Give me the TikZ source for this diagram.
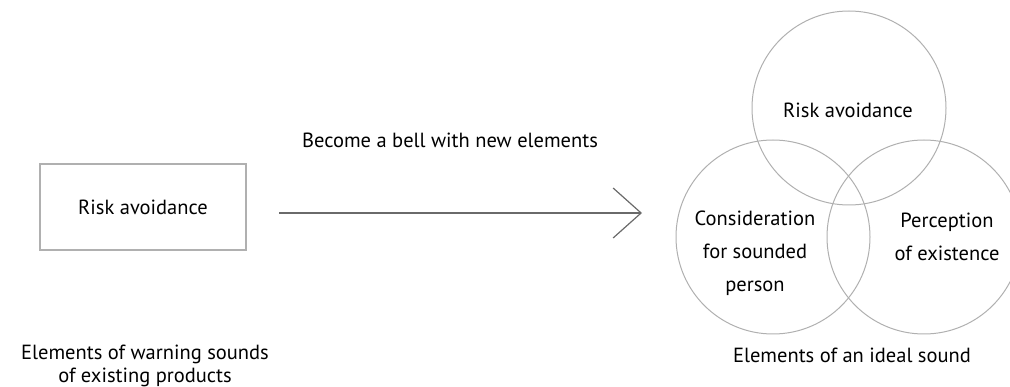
\documentclass[tikz,border=0pt]{standalone}
\usepackage{fontspec}
\setmainfont{PT Sans}
\usetikzlibrary{arrows.meta}

\begin{document}
\begin{tikzpicture}[x=1pt,y=-1pt]
  \definecolor{linegray}{HTML}{B0B0B0}
  \definecolor{arrowgray}{HTML}{6A6A6A}
  \tikzstyle{every node}=[font=\fontsize{20.5}{33}\selectfont, text=black]
  \tikzstyle{element box}=[draw=linegray, line width=1.1pt, minimum width=206pt, minimum height=86pt]
  \tikzstyle{sound circle}=[draw=linegray, line width=1pt, circle, minimum size=194pt, inner sep=0pt]
  \tikzstyle{caption}=[align=center, font=\fontsize{20.5}{23}\selectfont]

  \useasboundingbox (0,0) rectangle (1010,387);

  % existing products
  \node[element box] (box) at (143,207) {Risk avoidance};
  \node[caption] (existing) at (145,366) {Elements of warning sounds\\of existing products};

  % the arrow
  \coordinate (arrstart) at (279,213);
  \coordinate (arrend) at (642,213);
  \draw[arrowgray, line width=1.2pt, -{Straight Barb[length=28pt,width=50pt]}] (arrstart) -- (arrend);
  \node (become) at (450,140) {Become a bell with new elements};

  % ideal sound
  \node[sound circle] (risk) at (849,108) {};
  \node[sound circle] (consid) at (773,237) {};
  \node[sound circle] (percep) at (924,237) {};
  \node (risktext) at (848,110) {Risk avoidance};
  \node[align=center] (considtext) at (755,253) {Consideration\\for sounded\\person};
  \node[align=center] (perceptext) at (947,237) {Perception\\of existence};
  \node (ideal) at (852,355) {Elements of an ideal sound};
\end{tikzpicture}
\end{document}
